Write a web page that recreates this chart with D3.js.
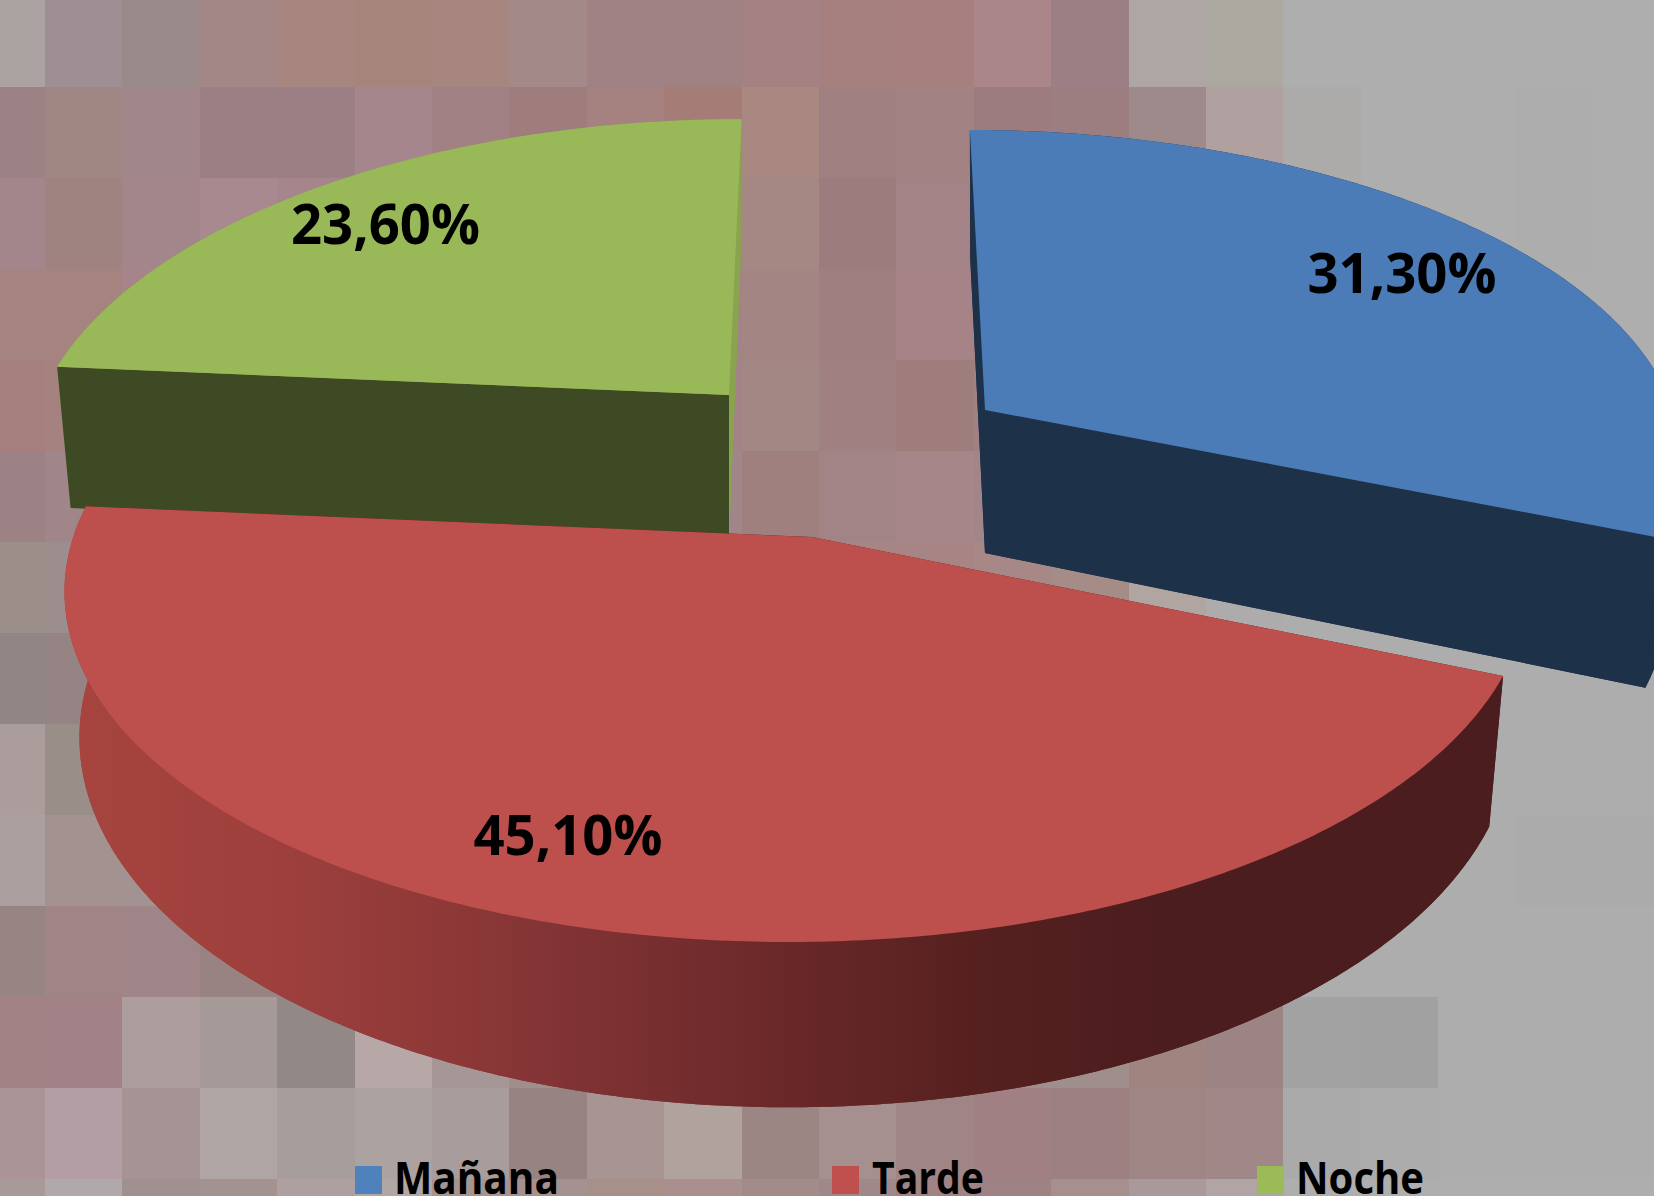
<!DOCTYPE html>
<html>
<head>
<meta charset="utf-8">
<script src="https://d3js.org/d3.v7.min.js"></script>
<style>html,body{margin:0;padding:0;background:#aaa;overflow:hidden}svg{display:block}</style>
</head>
<body>
<svg id="chart" width="1654" height="1196"></svg>
<script>
// ---- data ----
const categories = ["Mañana", "Tarde", "Noche"];
const values = [31.3, 45.1, 23.6];
const topColors = ["#4c7cb7", "#bd4f4c", "#99b958"];
const legendColors = ["#4f81bd", "#c0504d", "#9bbb59"];
const mosaicRows = [
"aba2a2 9d8f94 9a8a8a a28786 a6867f a5847c a6867f a38a88 a08284 a08284 a48284 a5807f a87f7f aa8589 9b7f85 aea5a5 aba99f aeaeae aeaeae aeaeae aeaeae aeaeae",
"9c8285 9f8883 a1878a 9c7f84 9c7f84 a5868c a18183 a07d7d a5827f a67c76 a88880 a18082 a38283 9d7c7f 9d7e80 9e8a8a b0a1a0 adaaaa aeaeae aeaeae adadad aeaeae",
"a3858c 9e8381 a3868a a8898f a6868c a4858a a28488 a28488 a38584 a48483 a58784 9d7c7e a48386 9c7b7d a48284 a08684 aea3a2 adabab aeaeae aeaeae adadad aeaeae",
"a58380 a5837f a78489 a48388 a48388 a48388 a48388 a48388 a48388 a48388 a38583 a07f80 a58386 a08284 a08284 a08284 aeaeae aeaeae aeaeae aeaeae aeaeae aeaeae",
"a6807f a5817f a48388 a48388 a48388 a48388 a48388 a48388 a48388 a48388 a28785 a18082 a07d7d a08284 a08284 a08284 aeaeae aeaeae aeaeae aeaeae aeaeae aeaeae",
"9c8285 a08688 a08688 a08688 a08688 a08688 a08688 a08688 a08688 a08688 9f807f a28386 a7868a a28589 a28589 a28589 aeaeae aeaeae aeaeae aeaeae aeaeae aeaeae",
"9c8f8a 9c8e8e 9c8e8e 9c8e8e 9c8e8e 9c8e8e 9c8e8e 9c8e8e 9c8e8e 9c8e8e a08484 a88585 a88585 a88886 a58c86 b0a5a0 adabab adadad adadad adadad adadad adadad",
"918585 968383 968383 968383 968383 968383 968383 968383 968383 968383 968383 968383 968383 968383 968383 adadad adadad adadad adadad adadad adadad adadad",
"ab9d9c 9a8e88 a08e8c a08e8c a08e8c a08e8c a08e8c a08e8c a08e8c a08e8c a08e8c a08e8c a08e8c a08e8c a08e8c adadad adadad adadad adadad adadad adadad adadad",
"ab9f9f a39290 a39292 a39292 a39292 a39292 a39292 a39292 a39292 a39292 a39292 a39292 a39292 a39292 a39292 adadad adadad adadad adadad adadad ababab ababab",
"988483 a18485 9f8587 988382 9f8587 9f8587 9f8587 9f8587 9f8587 9f8587 9f8587 9f8587 9f8587 9f8587 9f8587 ad9f9f ad9f9f adadad adadad adadad adadad adadad",
"a28285 a28286 ad9d9d a59a98 928885 b7a7a7 a69695 a08e8c a08e8c a08e8c a08e8c a08e8c a08e8c a08e8c a08e8c a0847f 9d8484 a2a2a2 a1a1a1 adadad adadad adadad",
"ab9495 b39ea6 a69494 b0a5a5 a69d9c aca3a0 a99c9c 968382 a89492 b0a39e 9c8684 a6908f 9f8585 a08082 9c8082 9e8685 a08888 aaaaaa acacac adadad adadad adadad",
"a99a9a b0a8aa a0908f a39290 ae9fa0 b0a7a4 a5948f a59190 a8908a a98f8d a38b8a 9f8889 a08385 9f8284 a68f8d a9999a b0a5a4 aeaeae aeaeae aeaeae aeaeae aeaeae"
].map(r => r.split(" ").map(c => "#" + c));

// ---- layout (perspective of each exploded slice) ----
const sliceView = [
  {cx: 985, cy: 410, a: 688, b: 315, p: 0.125, q: 0,    s: -17, wall: "#1d3149", label: [1402, 293], inner: "#1d3149"},
  {cx: 812, cy: 537, a: 724, b: 347, p: 0.143, q: 0.02, s: 6,   wall: "url(#redWall)", label: [568, 855], inner: "#4b1d1e"},
  {cx: 729, cy: 395, a: 687, b: 328, p: 0.189, q: 0,    s: 15,  wall: "#8aa34e", label: [385.5, 244], inner: "#3e4a23"}
];
const K = 0.98, D0 = 143, D1 = 0.055;
const W = 1654, H = 1196;

const svg = d3.select("#chart");

// ---- mosaic backdrop ----
const colX = d3.scaleLinear().domain([1, 22]).range([45, 45 + 77.4 * 21]);
const rowY = d3.scaleLinear().domain([1, 14]).range([87, 87 + 91 * 13]);
const mosaic = svg.append("g").attr("shape-rendering", "crispEdges");
mosaicRows.forEach((row, r) => {
  row.forEach((c, k) => {
    const x0 = k === 0 ? 0 : colX(k), x1 = Math.min(W, colX(k + 1));
    const y0 = r === 0 ? 0 : rowY(r), y1 = Math.min(H, rowY(r + 1));
    mosaic.append("rect").attr("x", x0).attr("y", y0)
      .attr("width", x1 - x0 + 0.5).attr("height", y1 - y0 + 0.5).attr("fill", c);
  });
});

// ---- gradient for the round wall ----
const defs = svg.append("defs");
const grad = defs.append("linearGradient").attr("id", "redWall")
  .attr("gradientUnits", "userSpaceOnUse").attr("x1", 70).attr("x2", 1500).attr("y1", 0).attr("y2", 0);
[[0, "#a7443f"], [0.16, "#9c3f3c"], [0.32, "#853535"], [0.5, "#6a2829"], [0.64, "#55201f"], [0.76, "#4c1d1e"], [1, "#4b1d1e"]]
  .forEach(([o, c]) => grad.append("stop").attr("offset", o).attr("stop-color", c));

// ---- pie ----
const arcs = d3.pie().sort(null).value(d => d)(values);
const project = (v, t) => {
  const su = Math.sin(t), cv = Math.cos(t), w = 1 + v.p * cv + v.q * su;
  return [v.cx + (v.a * su + v.s * cv) / w, v.cy - v.b * cv / w];
};
const lower = (v, q) => [v.cx + K * (q[0] - v.cx), q[1] + D0 + D1 * (q[1] - v.cy)];
const line = d3.line();
const arcPts = (v, t0, t1) => {
  const n = Math.ceil(Math.abs(t1 - t0) / 0.01);
  return d3.range(n + 1).map(i => project(v, t0 + (t1 - t0) * i / n));
};

const drawOrder = [2, 0, 1];
const pieG = svg.append("g");
drawOrder.forEach(i => {
  const v = sliceView[i], d = arcs[i];
  const top = arcPts(v, d.startAngle, d.endAngle);
  const apex = [v.cx, v.cy];
  const bot = top.map(q => lower(v, q));
  const apexB = lower(v, apex);
  // round wall, including the lower face so the silhouette is filled
  pieG.append("path").attr("d", line([...top, ...bot.slice().reverse()]) + "Z").attr("fill", v.wall);
  pieG.append("path").attr("d", line([apexB, ...bot]) + "Z").attr("fill", v.wall);
  // flat cut walls: the far-side one first, then the one facing the viewer
  const edges = i === 2 ? [top[top.length - 1], top[0]] : [top[0], top[top.length - 1]];
  edges.forEach((edge, e) => {
    const cut = [apex, edge, lower(v, edge), apexB];
    const isSliver = i === 2 && e === 0;
    pieG.append("path").attr("d", line(cut) + "Z").attr("fill", isSliver ? v.wall : v.inner);
  });
  pieG.append("path").attr("d", line([apex, ...top]) + "Z").attr("fill", topColors[i]);
});

// ---- value labels ----
const fmt = d3.formatLocale({decimal: ",", thousands: ".", grouping: [3], currency: ["", ""]}).format(".2f");
svg.append("g").selectAll("text").data(values).join("text")
  .attr("x", (d, i) => sliceView[i].label[0]).attr("y", (d, i) => sliceView[i].label[1])
  .attr("text-anchor", "middle")
  .attr("font-family", "'Open Sans', sans-serif").attr("font-weight", 700).attr("font-size", 56)
  .attr("textLength", 189).attr("lengthAdjust", "spacingAndGlyphs")
  .attr("fill", "#000").text(d => fmt(d) + "%");

// ---- legend ----
const swatchX = [355, 832, 1257];
const legendTextX = [394, 872, 1296];
const legendTextLen = [165, 112, 128];
const leg = svg.append("g");
categories.forEach((c, i) => {
  leg.append("rect").attr("x", swatchX[i]).attr("y", 1166).attr("width", 27).attr("height", 28).attr("fill", legendColors[i]);
  leg.append("text").attr("x", legendTextX[i]).attr("y", 1194)
    .attr("font-family", "'Open Sans', sans-serif").attr("font-weight", 700).attr("font-size", 44)
    .attr("textLength", legendTextLen[i]).attr("lengthAdjust", "spacingAndGlyphs")
    .attr("fill", "#000").text(c);
});
</script>
</body>
</html>
